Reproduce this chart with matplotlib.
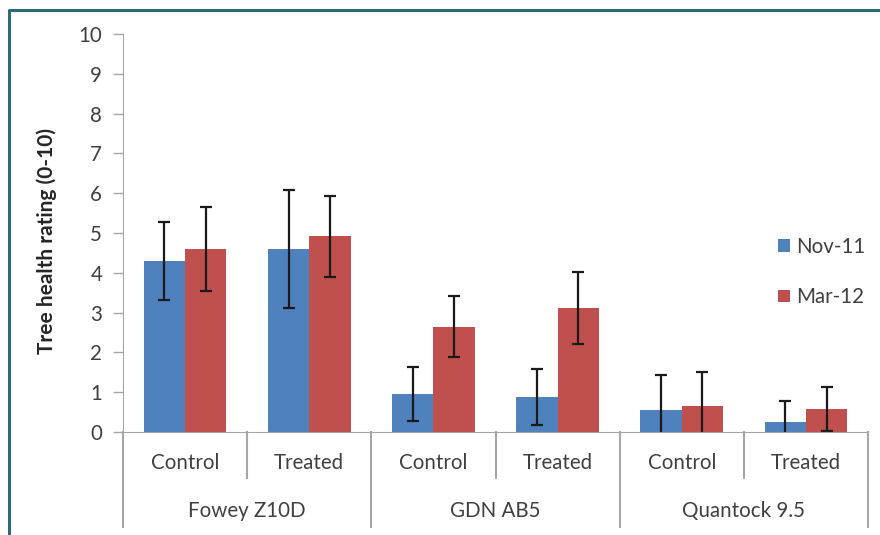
import matplotlib.pyplot as plt
from matplotlib.lines import Line2D
import numpy as np

plt.rcParams["font.family"] = ["Lato", "DejaVu Sans"]

sites = ["Fowey Z10D", "GDN AB5", "Quantock 9.5"]
treatments = ["Control", "Treated"]
series = ["Nov-11", "Mar-12"]

nov_mean = [4.3, 4.6, 0.95, 0.88, 0.55, 0.25]
nov_err = [0.98, 1.48, 0.68, 0.70, 0.87, 0.53]
mar_mean = [4.6, 4.92, 2.65, 3.12, 0.65, 0.58]
mar_err = [1.05, 1.02, 0.76, 0.90, 0.86, 0.55]

BLUE = "#4F81BD"
RED = "#C0504D"
GRID = "#A6A6A6"
TXT = "#404040"
FS = 14.8

fig = plt.figure(figsize=(8.8, 5.35), dpi=100)
ax = fig.add_axes([123 / 880, 1 - 432 / 535, 745 / 880, 398 / 535])

x = np.arange(len(nov_mean))
w = 1 / 3
ekw = dict(ecolor="#1a1a1a", elinewidth=1.6, capthick=1.6)
ax.bar(x - w / 2, nov_mean, w, color=BLUE, label=series[0],
       yerr=nov_err, capsize=4.3, error_kw=ekw)
ax.bar(x + w / 2, mar_mean, w, color=RED, label=series[1],
       yerr=mar_err, capsize=4.3, error_kw=ekw)

ax.set_xlim(-0.5, len(x) - 0.5)
ax.set_ylim(0, 10)
ax.set_yticks(range(0, 11))
ax.tick_params(axis="y", direction="out", length=7, width=1, color=GRID,
               pad=8, labelsize=FS, labelcolor=TXT)
ax.set_xticks([])
for s in ["top", "right"]:
    ax.spines[s].set_visible(False)
ax.spines["left"].set_color(GRID)
ax.spines["bottom"].set_color(GRID)

# two-level category axis
tr = ax.get_xaxis_transform()
ax_h = 398
for i in range(len(x)):
    ax.text(i, -31 / ax_h, treatments[i % 2], transform=tr, ha="center",
            va="center", fontsize=FS, color=TXT)
for k, site in enumerate(sites):
    ax.text(2 * k + 0.5, -79 / ax_h, site, transform=tr, ha="center",
            va="center", fontsize=FS, color=TXT)
for b in np.arange(-0.5, len(x), 1.0):
    depth = 95 if int(round(b + 0.5)) % 2 == 0 else 46
    ax.add_line(Line2D([b, b], [0, -depth / ax_h], transform=tr,
                       color=GRID, lw=1.5, clip_on=False))

fig.text(47 / 880, 1 - 241 / 535, "Tree health rating (0-10)", rotation=90,
         ha="center", va="center", fontsize=15, fontweight="bold", color="#262626")

ax.legend(loc="center", bbox_to_anchor=(0.938, 0.402), frameon=False,
          fontsize=FS, handlelength=0.55, handleheight=0.55, handletextpad=0.3,
          labelspacing=1.5, labelcolor=TXT)

# outer chart frame (partly cropped)
fig.add_artist(Line2D([9 / 880, 9 / 880, 1.0], [0.0, 1 - 10 / 535, 1 - 10 / 535],
                      transform=fig.transFigure, color="#2E6B7A", lw=2.2))

fig.savefig("out.png", dpi=100)
